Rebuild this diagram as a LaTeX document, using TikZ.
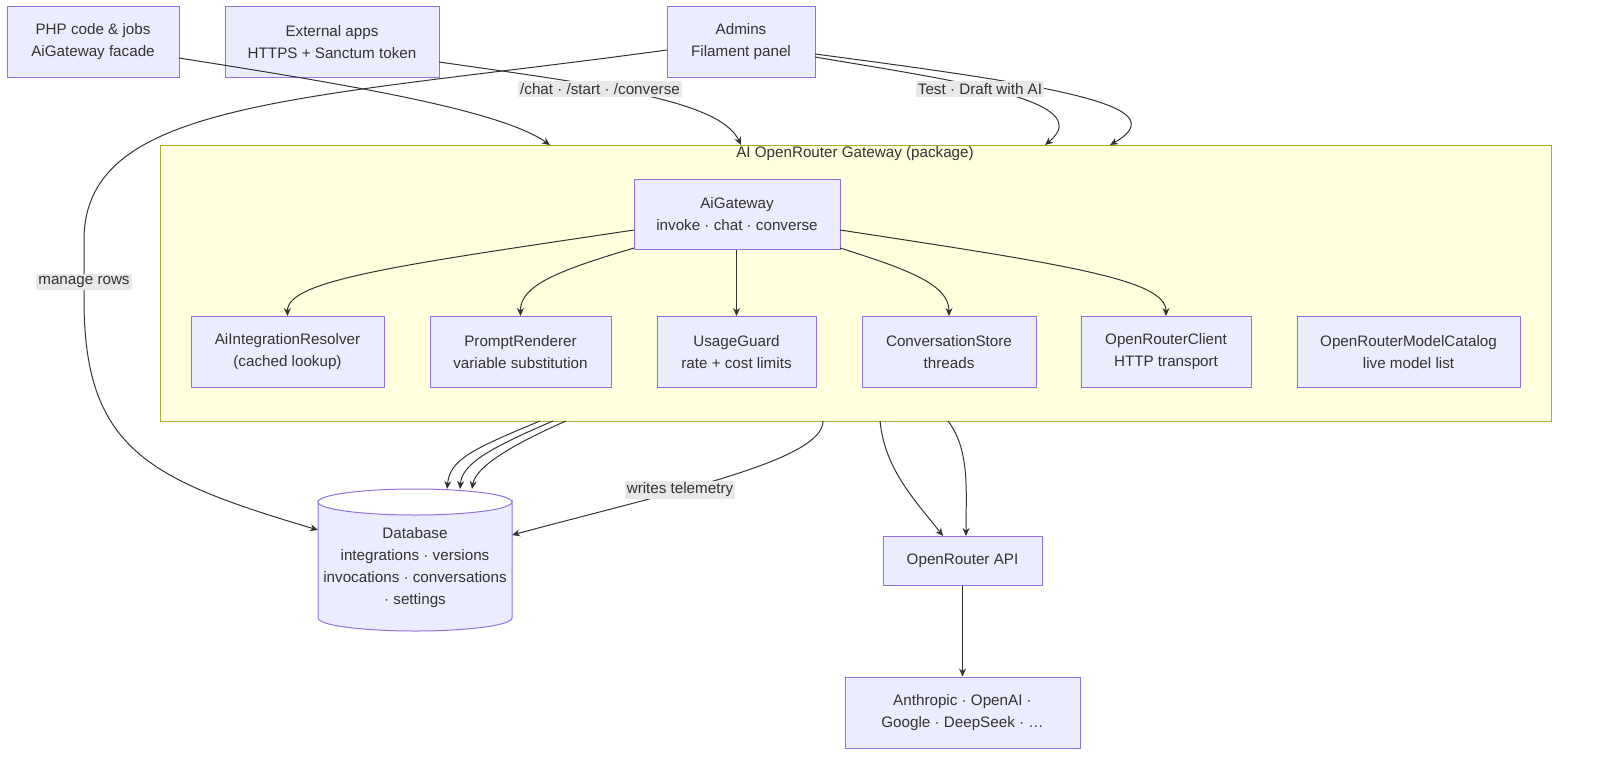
\documentclass[tikz,border=0pt]{standalone}
\usepackage{fontspec}
\setmainfont{Liberation Sans}
\usetikzlibrary{shapes.geometric,arrows.meta}
\definecolor{nf}{HTML}{ECECFF}\definecolor{nb}{HTML}{9370DB}
\definecolor{pf}{HTML}{FFFFDE}\definecolor{pb}{HTML}{AAAA33}
\definecolor{lb}{HTML}{E8E8E8}\definecolor{ec}{HTML}{333333}
\begin{document}
\begin{tikzpicture}[x=0.5pt,y=-0.5pt,
 box/.style={draw=nb,fill=nf,line width=0.5pt,align=center,font=\fontsize{7.6}{11}\selectfont,text=ec,inner sep=0pt},
 e/.style={draw=ec,line width=0.5pt,-{Stealth[length=4pt,width=3.5pt]}},
 lab/.style={fill=lb,font=\fontsize{7.6}{9}\selectfont,text=ec,inner sep=1pt}]
\node[draw=pb,fill=pf,line width=0.5pt,minimum width=695.5pt,minimum height=138pt,inner sep=0pt] (pkg) at (855.5,283) {};
\node[font=\fontsize{7.6}{9}\selectfont,text=ec] at (855,154) {AI OpenRouter Gateway (package)};
\node[box,minimum width=86pt,minimum height=35.5pt] (php) at (93,42) {PHP code \& jobs\\AiGateway facade};
\node[box,minimum width=107pt,minimum height=35.5pt] (ext) at (332,42) {External apps\\HTTPS + Sanctum token};
\node[box,minimum width=74pt,minimum height=35.5pt] (adm) at (741,42) {Admins\\Filament panel};
\node[box,minimum width=103pt,minimum height=35pt] (gw) at (737,214) {AiGateway\\invoke · chat · converse};
\node[box,minimum width=96.5pt,minimum height=35.5pt] (res) at (287.5,352) {AiIntegrationResolver\\(cached lookup)};
\node[box,minimum width=90.5pt,minimum height=35.5pt] (pr) at (520.5,352) {PromptRenderer\\variable substitution};
\node[box,minimum width=79.5pt,minimum height=35.5pt] (ug) at (736.5,352) {UsageGuard\\rate + cost limits};
\node[box,minimum width=87pt,minimum height=35.5pt] (cs) at (949,352) {ConversationStore\\threads};
\node[box,minimum width=85pt,minimum height=35.5pt] (oc) at (1166,352) {OpenRouterClient\\HTTP transport};
\node[box,minimum width=111.5pt,minimum height=35.5pt] (cat) at (1408.5,352) {OpenRouterModelCatalog\\live model list};
% database cylinder
\draw[draw=nb,fill=nf,line width=0.5pt] (318,502) arc[start angle=180,end angle=360,x radius=97,y radius=-13] -- (512,618) arc[start angle=0,end angle=-180,x radius=97,y radius=-13] -- cycle;
\draw[draw=nb,line width=0.5pt] (318,502) arc[start angle=180,end angle=0,x radius=97,y radius=-13];
\node[align=center,font=\fontsize{7.6}{11}\selectfont,text=ec,minimum width=97pt,minimum height=55pt] (db) at (415,568) {Database\\integrations · versions\\invocations · conversations\\· settings};
\node[box,minimum width=79.5pt,minimum height=24.5pt] (api) at (962.5,560.5) {OpenRouter API};
\node[box,minimum width=117.5pt,minimum height=35.5pt] (llm) at (962.5,712.5) {Anthropic · OpenAI ·\\Google · DeepSeek · …};
\coordinate (t1) at (550,145);\coordinate (t2) at (741,145);
\coordinate (t3) at (1045,145);\coordinate (t4) at (1110,145);
\draw[e] (179,58) .. controls (350,85) and (500,110) .. (t1);
\draw[e] (439,62) .. controls (600,85) and (720,100) .. (t2);
\node[lab] at (600,89) {/chat · /start · /converse};
\draw[e] (815,57) .. controls (950,80) and (1100,100) .. (t3);
\draw[e] (815,54) .. controls (1050,85) and (1180,105) .. (t4);
\node[lab] at (980,89) {Test · Draft with AI};
\draw[e] (667,50) .. controls (300,100) and (84,100) .. (84,240) -- (84,300) .. controls (84,450) and (150,480) .. (318,530);
\node[lab] at (84,282) {manage rows};
\draw[e] (634,230) .. controls (400,265) and (287,280) .. (res.north);
\draw[e] (634,248) .. controls (560,270) and (520,285) .. (pr.north);
\draw[e] (gw.south-|ug.north) -- (ug.north);
\draw[e] (840,248) .. controls (910,270) and (949,285) .. (cs.north);
\draw[e] (840,230) .. controls (1070,265) and (1166,280) .. (oc.north);
\draw[e] (540,421) .. controls (470,450) and (450,460) .. (447,489);
\draw[e] (553,421) .. controls (485,450) and (462,465) .. (460,489);
\draw[e] (566,421) .. controls (500,450) and (475,470) .. (472,489);
\draw[e] (823,421) .. controls (823,460) and (680,490) .. (512,535);
\node[lab] at (680,490) {writes telemetry};
\draw[e] (880,421) .. controls (885,470) and (915,500) .. (943,536);
\draw[e] (948,421) .. controls (970,450) and (966,490) .. (966,536);
\draw[e] (api) -- (llm);
\pgfresetboundingbox
\useasboundingbox (0,0) rectangle (1600,777);
\end{tikzpicture}
\end{document}
